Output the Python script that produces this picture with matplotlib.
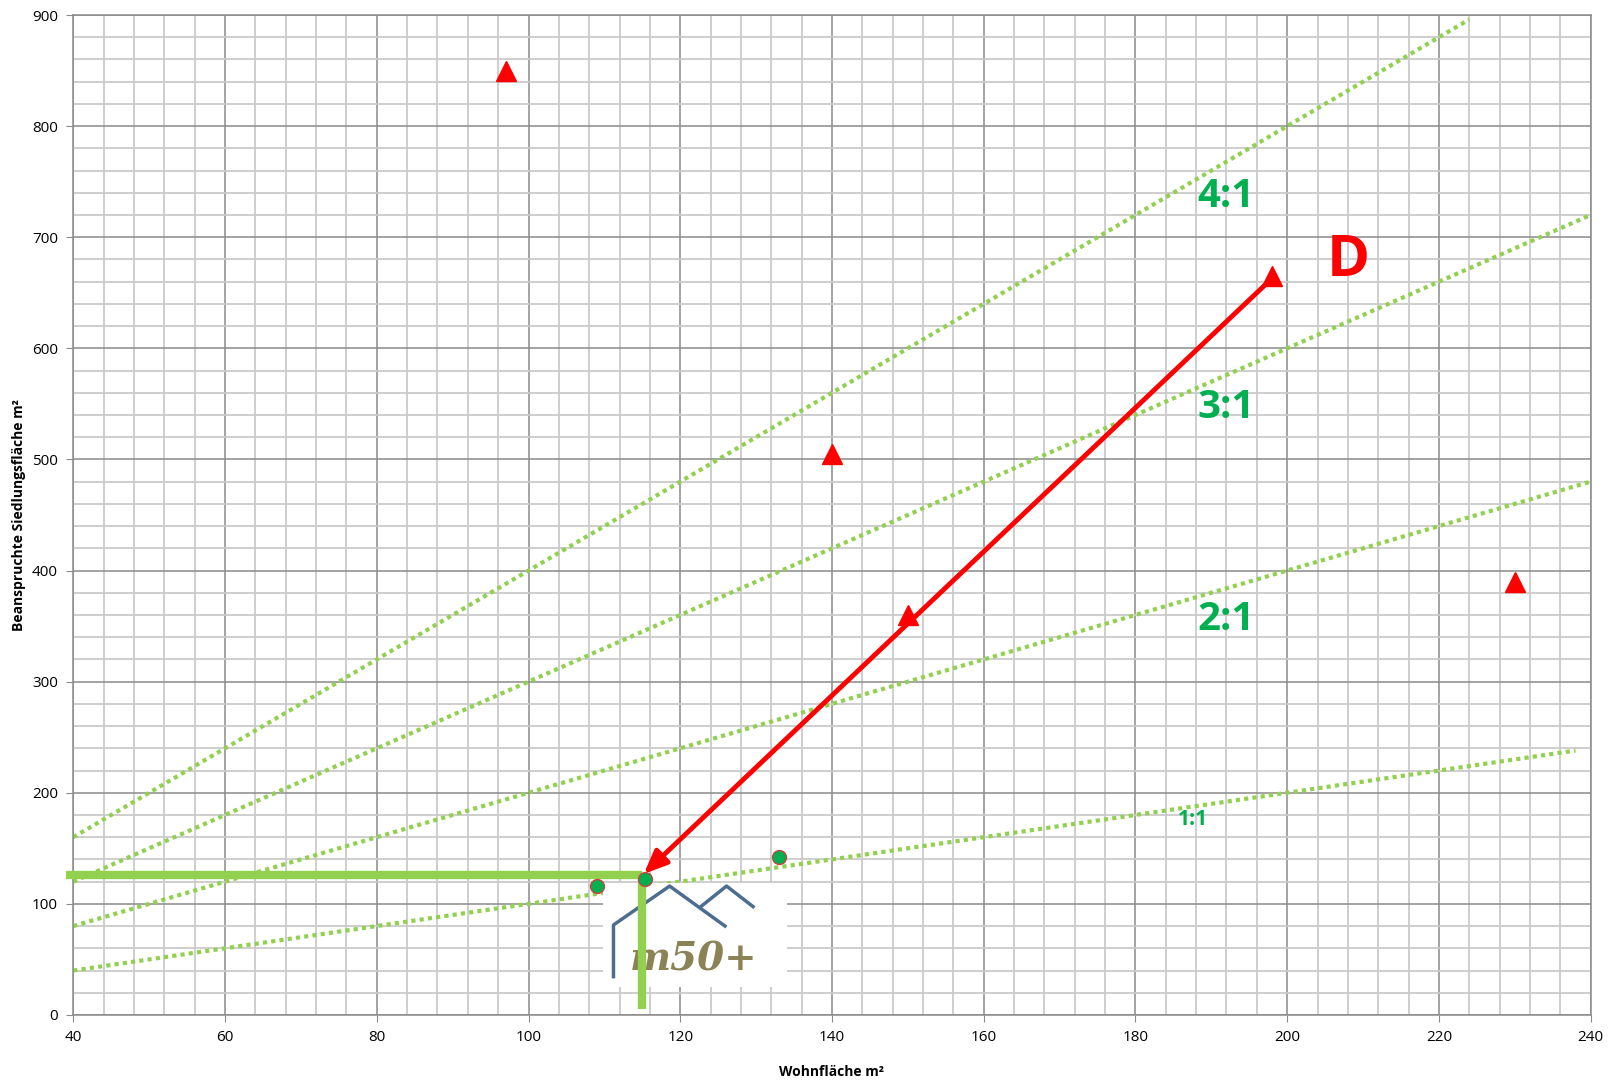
import numpy as np
import matplotlib
matplotlib.use("Agg")
import matplotlib.pyplot as plt
from matplotlib.patches import Rectangle

plt.rcParams['font.family'] = ['Open Sans', 'DejaVu Sans']

# ratio lines (Siedlungsfläche = k * Wohnfläche)
ratios = [1, 2, 3, 4]
ratio_labels = ['1:1', '2:1', '3:1', '4:1']
ratio_x0 = [40, 40, 39, 40]
ratio_x1 = [238, 240, 240, 224]
label_xy = [(187.5, 176), (192, 356), (192, 547), (192, 737)]
label_size = [15, 29, 29, 29]

# measured values
tri_x = [97, 140, 150, 198, 230]
tri_y = [850, 505, 360, 665, 390]
dot_x = [109, 115.3, 133]
dot_y = [116, 122, 142]

# arrow from D to target
arrow_start = (198, 663)
arrow_end = (115.2, 127)
target_x = 115
target_y = 126

# logo drawing (house outline)
logo_box = (109.8, 25.5, 24.3, 93)
house1_x = [111.2, 111.2, 118.6, 125.9]
house1_y = [34.5, 81, 116, 80]
house2_x = [122.8, 126.1, 129.6]
house2_y = [98, 116, 97.5]

fig = plt.figure(figsize=(16.18, 10.81), dpi=100)
ax = fig.add_axes([0.0453, 0.0611, 0.9378, 0.925])
ax.set_xlim(40, 240)
ax.set_ylim(0, 900)
ax.set_xticks(np.arange(40, 241, 20))
ax.set_yticks(np.arange(0, 901, 100))
ax.set_xticks(np.arange(40, 241, 4), minor=True)
ax.set_yticks(np.arange(0, 901, 20), minor=True)
ax.grid(which='minor', color='#cacaca', lw=1.3, zorder=0)
ax.grid(which='major', color='#8a8a8a', lw=1.1, zorder=0)
ax.set_axisbelow(True)
for s in ax.spines.values():
    s.set_color('#8a8a8a')
    s.set_linewidth(1.1)
ax.tick_params(which='major', direction='out', length=5, color='#8a8a8a', labelsize=11, pad=6)
ax.tick_params(which='minor', length=0)
ax.set_xlabel('Wohnfläche m²', fontsize=10, fontweight='bold', labelpad=14)
ax.set_ylabel('Beanspruchte Siedlungsfläche m²', fontsize=10, fontweight='bold', labelpad=4)

for k, x0, x1 in zip(ratios, ratio_x0, ratio_x1):
    xs = np.array([x0, x1])
    ax.plot(xs, k * xs, color='#92D050', lw=3, linestyle=(0, (1, 1)), dash_capstyle='butt', zorder=2)
for lab, (lx, ly), fs in zip(ratio_labels, label_xy, label_size):
    ax.text(lx, ly, lab, color='#00B050', fontsize=fs, fontweight='bold', ha='center', va='center', zorder=5)

# logo
ax.add_patch(Rectangle(logo_box[:2], logo_box[2], logo_box[3], facecolor='white', edgecolor='none', zorder=3))
ax.plot(house1_x, house1_y, color='#4d6d90', lw=2.5, zorder=4)
ax.plot(house2_x, house2_y, color='#4d6d90', lw=2.5, zorder=4)
ax.text(121.8, 50, 'm50+', color='#8b8355', fontsize=28, fontweight='bold', style='italic',
        family='DejaVu Serif', ha='center', va='center', zorder=4)

ax.plot(tri_x, tri_y, '^', color='#ff0000', ms=15, zorder=6, clip_on=False)
ax.plot(dot_x, dot_y, 'o', color='#00B050', mec='#d04040', mew=1, ms=10, zorder=6)

# green target lines
ax.plot([39, target_x], [target_y, target_y], color='#92D050', lw=6, solid_capstyle='butt', zorder=5, clip_on=False)
ax.plot([target_x, target_x], [target_y, 5], color='#92D050', lw=6, solid_capstyle='butt', zorder=5)

ax.annotate('', xy=arrow_end, xytext=arrow_start,
            arrowprops=dict(arrowstyle='-|>,head_length=1.4,head_width=0.6', color='#ff0000', lw=3.5,
                            shrinkA=0, shrinkB=0), zorder=7)
ax.text(208, 679, 'D', color='#ff0000', fontsize=42, fontweight='bold', ha='center', va='center', zorder=5)

fig.savefig('out.png', dpi=100)
